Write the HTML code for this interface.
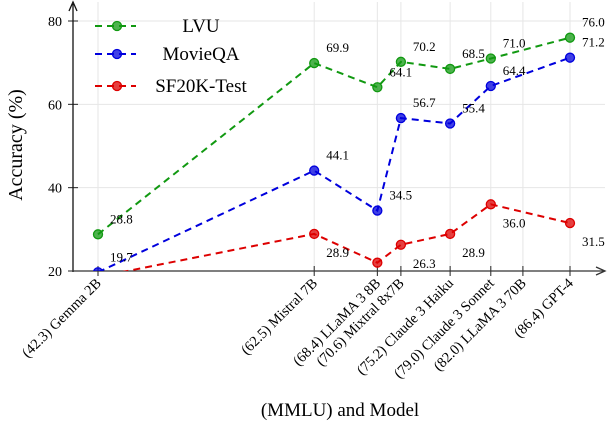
<!DOCTYPE html>
<html><head><meta charset="utf-8"><style>
body{margin:0;background:#fff}
svg{font-family:"Liberation Serif",serif;display:block}
</style></head><body>
<svg id="c" width="610" height="422" viewBox="0 0 610 422">
<g id="grid"></g>
<g id="axes"></g>
<g id="series"></g>
<text x="340" y="416" font-size="19" text-anchor="middle">(MMLU) and Model</text>
<text transform="translate(22,145) rotate(-90)" font-size="20" text-anchor="middle">Accuracy (%)</text>
<g id="legend"></g>
</svg>
<script>
const mmlu=[42.3,62.5,68.4,70.6,75.2,79.0,82.0,86.4];
const models=["Gemma 2B","Mistral 7B","LLaMA 3 8B","Mixtral 8x7B","Claude 3 Haiku","Claude 3 Sonnet","LLaMA 3 70B","GPT-4"];
const yTicks=[20,40,60,80];
const lvu=[28.8,69.9,64.1,70.2,68.5,71.0,null,76.0];
const movieqa=[19.7,44.1,34.5,56.7,55.4,64.4,null,71.2];
const sf20k=[18.6,28.9,22.0,26.3,28.9,36.0,null,31.5];
const sf20kShowLabel=[false,true,false,true,true,true,false,true];
const NS="http://www.w3.org/2000/svg";
const X=v=>98+(v-42.3)*(570-98)/(86.4-42.3);
const Y=v=>271-(v-20)*250/60;
function mk(p,t,a){const e=document.createElementNS(NS,t);for(const k in a)e.setAttribute(k,a[k]);p.appendChild(e);return e;}
const svg=document.getElementById('c');
const grid=document.getElementById('grid'),axes=document.getElementById('axes'),ser=document.getElementById('series'),leg=document.getElementById('legend');
const defs=mk(svg,'defs',{});const cp=mk(defs,'clipPath',{id:'clip'});mk(cp,'rect',{x:73,y:0,width:537,height:271});
mmlu.forEach((m,i)=>{
 const g=mk(grid,'line',{x1:X(m),x2:X(m),y1:2,y2:271,stroke:'#e6e6e6','stroke-width':1});
 
 
 const t=mk(axes,'line',{x1:X(m),x2:X(m),y1:266,y2:276,stroke:'#222','stroke-width':1});
 
 
 const l=mk(axes,'text',{transform:`translate(${X(m)+4},${284}) rotate(-45)`,'font-size':14.5,'text-anchor':'end'});
 l.textContent=`(${m.toFixed(1)}) ${models[i]}`;
 
 
});
yTicks.forEach(v=>{
 const g=mk(grid,'line',{x1:73,x2:605,y1:Y(v),y2:Y(v),stroke:'#e6e6e6','stroke-width':1});
 
 
 const t=mk(axes,'line',{x1:68,x2:78,y1:Y(v),y2:Y(v),stroke:'#222','stroke-width':1});
 
 
 const l=mk(axes,'text',{x:62,y:Y(v)+5,'font-size':14,'text-anchor':'end'});
 l.textContent=v;
 
 
});
mk(axes,'line',{x1:73,x2:73,y1:272,y2:4,stroke:'#111','stroke-width':1.3});
mk(axes,'path',{d:'M69,11 L73,2 L77,11',fill:'none',stroke:'#111','stroke-width':1.3});
mk(axes,'line',{x1:72,x2:604,y1:271,y2:271,stroke:'#333','stroke-width':1.3});
mk(axes,'path',{d:'M596,267 L605,271 L596,275',fill:'none',stroke:'#333','stroke-width':1.3});
function marker(p,x,y,c){
 return mk(p,'circle',{cx:x,cy:y,r:4.5,fill:c,'fill-opacity':0.75,stroke:c,'stroke-width':1.3});
}
function series(vals,c,name,dy,show){
 const g=mk(ser,'g',{'clip-path':'url(#clip)'});
 
 
 const pts=vals.map((v,i)=>v==null?null:[X(mmlu[i]),Y(v)]).filter(p=>p);
 const ln=mk(g,'polyline',{points:pts.map(p=>p.join(',')).join(' '),fill:'none',stroke:c,'stroke-width':2,'stroke-dasharray':'7,5'});
 
 
 vals.forEach((v,i)=>{
  if(v==null)return;
  const m=marker(g,X(mmlu[i]),Y(v),c);
  
  
  if(show&&!show[i])return;
  const t=mk(ser,'text',{x:X(mmlu[i])+12,y:Y(v)+dy,'font-size':13});
  t.textContent=v.toFixed(1);
  
  
 });
}
series(sf20k,'#dd0000','sf20k',23,sf20kShowLabel);
series(movieqa,'#0000dd','movieqa',-11,null);
series(lvu,'#119911','lvu',-11,null);
[['LVU','#119911',26],['MovieQA','#0000dd',54],['SF20K-Test','#dd0000',86]].forEach(([n,c,y])=>{
 const g=mk(leg,'g',{});
 
 
 mk(g,'line',{x1:95,x2:136,y1:y,y2:y,stroke:c,'stroke-width':2,'stroke-dasharray':'7,5'});
 marker(g,117,y,c);
 const t=mk(g,'text',{x:201,y:y+6,'font-size':19,'text-anchor':'middle'});
 t.textContent=n;
});
</script>
</body></html>
